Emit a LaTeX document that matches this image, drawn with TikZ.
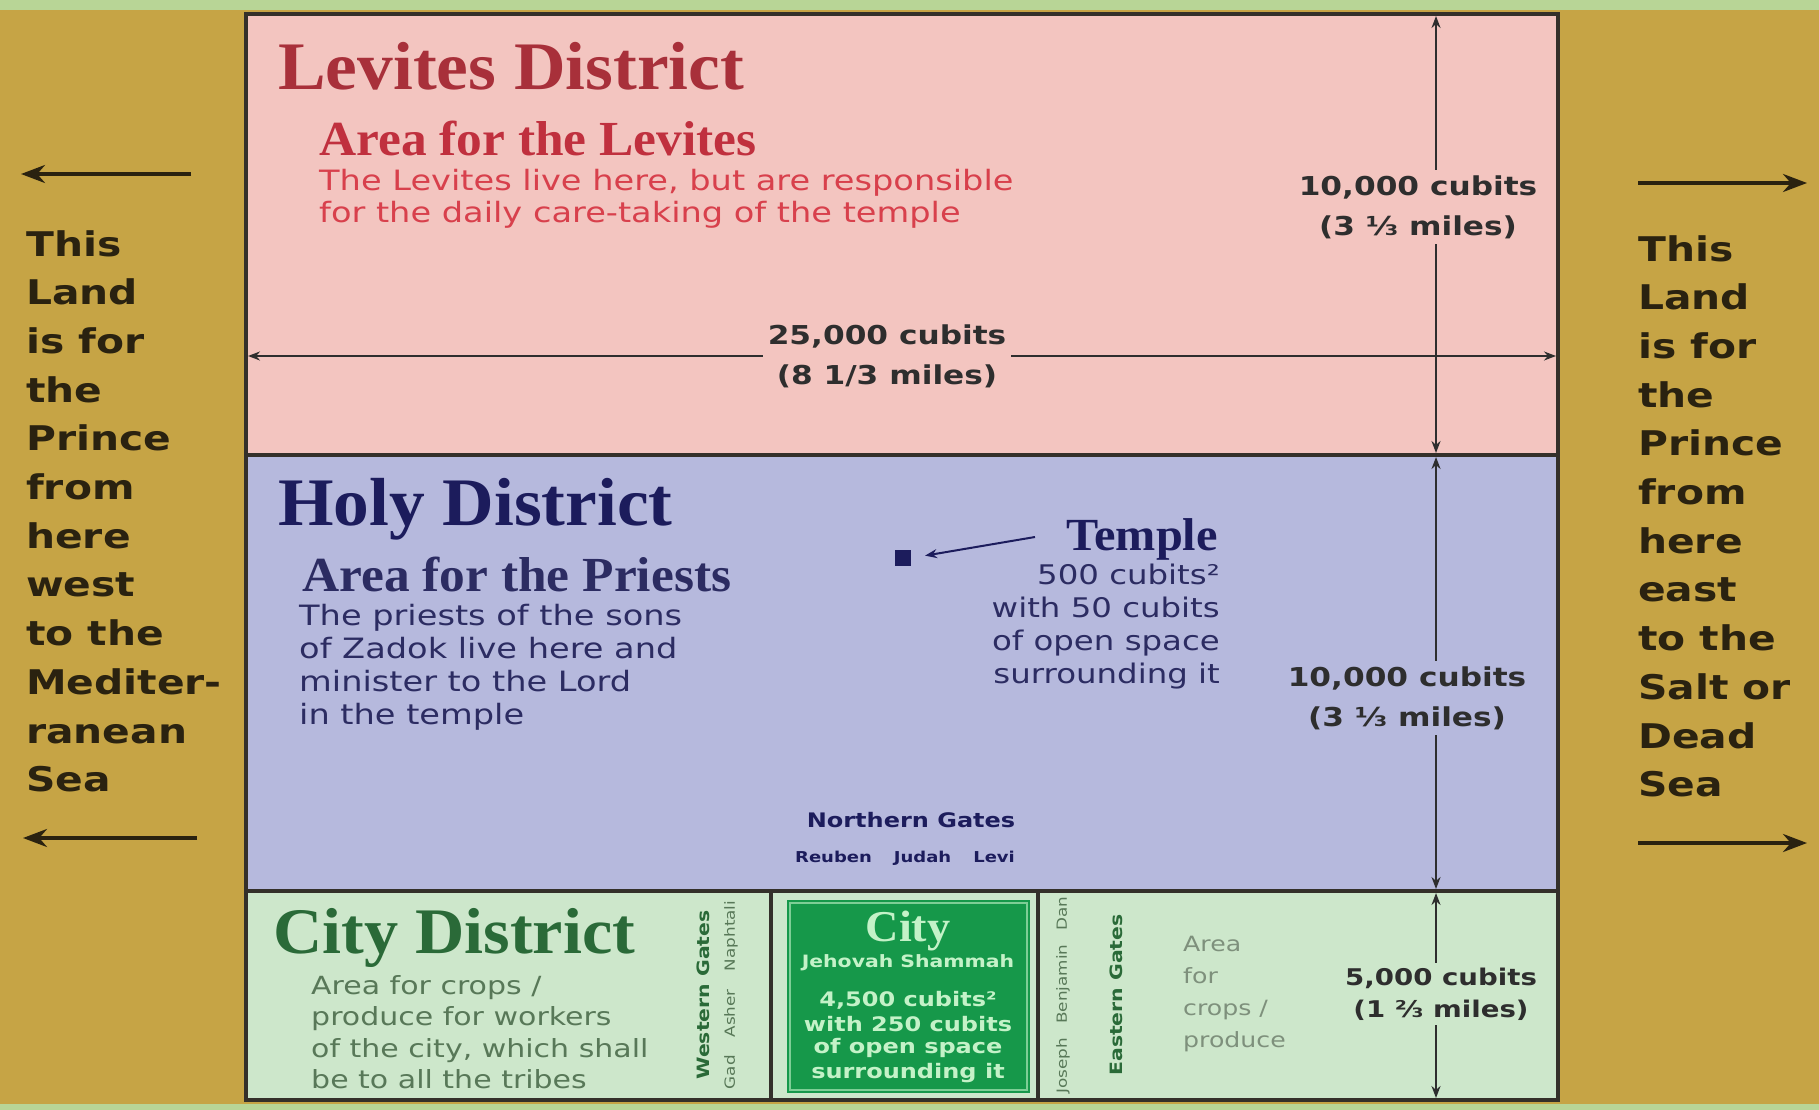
\documentclass[tikz,border=0pt]{standalone}
\usepackage{fontspec}
\setmainfont[FakeStretch=1.05]{Liberation Serif}
\newfontfamily\sa[FakeStretch=1.2]{DejaVu Sans}
\usetikzlibrary{arrows.meta}
\definecolor{gold}{HTML}{C6A445}
\definecolor{topg}{HTML}{B8D596}
\definecolor{levpink}{HTML}{F3C5C0}
\definecolor{holyblue}{HTML}{B6B9DD}
\definecolor{citylight}{HTML}{CDE7CB}
\definecolor{citydark}{HTML}{16984A}
\definecolor{bordc}{HTML}{34302A}
\definecolor{levtitle}{HTML}{A8303A}
\definecolor{levsub}{HTML}{C0303E}
\definecolor{levbody}{HTML}{D8404C}
\definecolor{holytitle}{HTML}{1C1C5C}
\definecolor{holybody}{HTML}{2C2C62}
\definecolor{citytitle}{HTML}{2A6A38}
\definecolor{citybody}{HTML}{587858}
\definecolor{cropc}{HTML}{7E907C}
\definecolor{dimc}{HTML}{2E2E2E}
\definecolor{sidec}{HTML}{2A2210}
\definecolor{cityt}{HTML}{C4F2C8}
\newcommand{\fs}[2]{\fontsize{#1}{#2}\selectfont}
\begin{document}
\begin{tikzpicture}[x=1pt,y=-1pt,
  ttl/.style={anchor=base west, inner sep=0, font=\bfseries\fs{68}{80}},
  subttl/.style={anchor=base west, inner sep=0, font=\bfseries\fs{49}{56}},
  bodytxt/.style={anchor=north west, inner sep=0, align=left},
  sidetxt/.style={anchor=north west, inner sep=0, align=left, text=sidec, font=\sa\bfseries\fs{34}{48.7}},
  dimlabel/.style={align=center, inner sep=5, font=\sa\bfseries\fs{26}{40}, text=dimc},
  dimline/.style={draw=dimc, line width=2, {Stealth[length=12,width=9]}-{Stealth[length=12,width=9]}},
  sidearrow/.style={draw=sidec, line width=3.5, -{Stealth[length=24,width=18]}},
  bord/.style={draw=bordc, line width=3.5},
  vgate/.style={rotate=90, inner sep=0},
  cityline/.style={inner sep=0, text=cityt, font=\sa\bfseries\fs{20}{24}}
]
\useasboundingbox (0,0) rectangle (1819,1110);
% backgrounds
\fill[gold] (0,0) rectangle (1819,1110);
\fill[topg] (0,0) rectangle (1819,10);
\fill[topg] (0,1104) rectangle (1819,1110);
\fill[levpink] (246,14) rectangle (1558,455);
\fill[holyblue] (246,455) rectangle (1558,891);
\fill[citylight] (246,891) rectangle (1558,1100);
\fill[citydark] (787,900) rectangle (1030,1093);
\draw[cityt!60!citydark, line width=1.5] (790,903) rectangle (1027,1090);
% borders
\draw[bord] (246,455) -- (1558,455);
\draw[bord] (246,891) -- (1558,891);
\draw[bord] (771,891) -- (771,1100);
\draw[bord] (1038,891) -- (1038,1100);
\draw[bord] (246,14) rectangle (1558,1100);

% dimension lines
\coordinate (d1t) at (1436,16);
\coordinate (d1b) at (1436,453);
\coordinate (d2t) at (1436,457);
\coordinate (d2b) at (1436,889);
\coordinate (d3t) at (1436,893);
\coordinate (d3b) at (1436,1098);
\coordinate (hl) at (248,356);
\coordinate (hr) at (1556,356);
\draw[dimline] (d1t) -- (d1b);
\draw[dimline] (d2t) -- (d2b);
\draw[dimline] (d3t) -- (d3b);
\draw[dimline] (hl) -- (hr);
\node[dimlabel, fill=levpink] (dl1) at (1418,207) {10,000 cubits\\(3 ⅓ miles)};
\node[dimlabel, fill=levpink] (dl2) at (887,356) {25,000 cubits\\(8 1/3 miles)};
\node[dimlabel, fill=holyblue] (dl3) at (1407,698) {10,000 cubits\\(3 ⅓ miles)};
\node[dimlabel, fill=citylight, font=\sa\bfseries\fs{23}{32}] (dl4) at (1441,994) {5,000 cubits\\(1 ⅔ miles)};

% Levites district
\node[ttl, text=levtitle] (levt) at (278,90) {Levites District};
\node[subttl, text=levsub] (levs) at (319,156) {Area for the Levites};
\node[bodytxt, text=levbody, font=\sa\fs{28}{32}] (levb) at (319,169)
  {The Levites live here, but are responsible\\for the daily care-taking of the temple};

% Holy district
\node[ttl, text=holytitle] (holt) at (278,525) {Holy District};
\node[subttl, text=holybody] (hols) at (302,591) {Area for the Priests};
\node[bodytxt, text=holybody, font=\sa\fs{28}{33}] (holb) at (299,604)
  {The priests of the sons\\of Zadok live here and\\minister to the Lord\\in the temple};
\node[fill=holytitle, minimum size=16, inner sep=0] (tsq) at (903,558) {};
\node[anchor=base east, inner sep=0, text=holytitle, font=\bfseries\fs{46}{50}] (tmpl) at (1218,550) {Temple};
\coordinate (tarr) at (1035,537);
\draw[holytitle, line width=2, -{Stealth[length=12,width=9]}, shorten >=14] (tarr) -- (tsq.east);
\node[anchor=north east, inner sep=0, align=right, text=holybody, font=\sa\fs{27}{33}] (tmb) at (1220,564)
  {500 cubits²\\with 50 cubits\\of open space\\surrounding it};
\node[inner sep=0, text=holytitle, font=\sa\bfseries\fs{20}{24}] (ng) at (911,820) {Northern Gates};
\node[inner sep=0, text=holytitle, font=\sa\bfseries\fs{15}{18}] (ngn) at (905,858) {Reuben\hspace{22pt}Judah\hspace{22pt}Levi};

% City district
\node[ttl, text=citytitle, font=\bfseries\fs{65}{70}] (cityt) at (273,953) {City District};
\node[bodytxt, text=citybody, font=\sa\fs{25}{31.5}] (cityb) at (311,975)
  {Area for crops /\\produce for workers\\of the city, which shall\\be to all the tribes};
\node[vgate, text=citytitle, font=\sa\bfseries\fs{17}{20}] (wg) at (703,995) {Western Gates};
\node[vgate, text=citybody, font=\sa\fs{14}{16}] (wgn) at (731,995) {Gad\hspace{18pt}Asher\hspace{18pt}Naphtali};
\node[vgate, text=citybody, font=\sa\fs{14}{16}] (egn) at (1063,995) {Joseph\hspace{14pt}Benjamin\hspace{14pt}Dan};
\node[vgate, text=citytitle, font=\sa\bfseries\fs{17}{20}] (eg) at (1116,995) {Eastern Gates};
\node[bodytxt, text=cropc, font=\sa\fs{21}{32}] (crop) at (1183,936) {Area\\for\\crops /\\produce};
\node[anchor=base, inner sep=0, text=cityt, font=\bfseries\fs{44}{48}] (cityn) at (908,941) {City};
\node[cityline, font=\sa\bfseries\fs{17}{20}] (jeh) at (908,963) {Jehovah Shammah};
\node[cityline] (c1) at (908,1000) {4,500 cubits²};
\node[cityline] (c2) at (908,1024) {with 250 cubits};
\node[cityline] (c3) at (908,1048) {of open space};
\node[cityline] (c4) at (908,1073) {surrounding it};

% side lands
\node[sidetxt] (wl) at (26,230) {This\\Land\\is for\\the\\Prince\\from\\here\\west\\to the\\Mediter-\\ranean\\Sea};
\node[sidetxt] (el) at (1638,235) {This\\Land\\is for\\the\\Prince\\from\\here\\east\\to the\\Salt or\\Dead\\Sea};
\coordinate (wa1s) at (191,174); \coordinate (wa1e) at (21,174);
\coordinate (wa2s) at (197,838); \coordinate (wa2e) at (23,838);
\coordinate (ea1s) at (1638,183); \coordinate (ea1e) at (1807,183);
\coordinate (ea2s) at (1638,843); \coordinate (ea2e) at (1807,843);
\draw[sidearrow] (wa1s) -- (wa1e);
\draw[sidearrow] (wa2s) -- (wa2e);
\draw[sidearrow] (ea1s) -- (ea1e);
\draw[sidearrow] (ea2s) -- (ea2e);
\end{tikzpicture}
\end{document}
